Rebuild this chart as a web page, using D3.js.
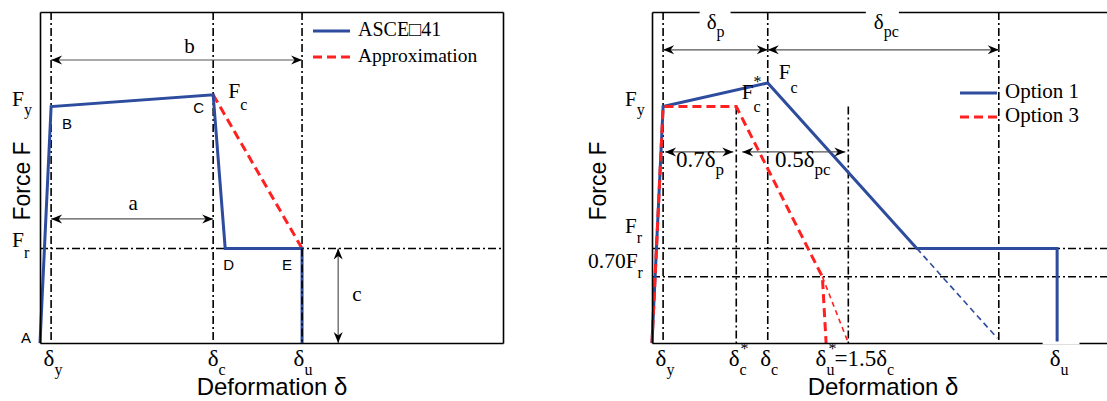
<!DOCTYPE html>
<html>
<head>
<meta charset="utf-8">
<script src="https://cdn.jsdelivr.net/npm/d3@7"></script>
<style>
  body { margin: 0; background: #fff; }
  svg { display: block; }
  .serif { font-family: "Liberation Serif", "Times New Roman", serif; }
  .sans { font-family: "Liberation Sans", Arial, Helvetica, sans-serif; }
</style>
</head>
<body>
<svg id="chart" width="1107" height="401"></svg>
<script>
// ---- Left panel: ASCE 41 backbone (normalised deformation / force) ----
const asceDef   = [0, 0.24, 3.74, 4.00, 5.66, 5.66];
const asceForce = [0, 1.00, 1.05, 0.40, 0.40, 0.00];
const asceNames = ["A", "B", "C", "D", "E"];
const approxDef   = [3.74, 5.66];
const approxForce = [1.05, 0.40];
const leftRefDef   = [0.24, 3.74, 5.66];   // δy, δc, δu
const leftRefForce = [0.40];               // Fr
const leftTickSubs = ["y", "c", "u"];

// ---- Right panel: Option 1 / Option 3 backbones ----
const opt1Def   = [0, 0.24, 2.50, 5.72, 8.75, 8.75];
const opt1Force = [0, 1.00, 1.10, 0.40, 0.40, 0.00];
const opt1ExtDef   = [5.72, 7.46];
const opt1ExtForce = [0.40, 0.02];
const opt3Def   = [0, 0.24, 1.82, 3.68, 3.76];
const opt3Force = [0, 1.00, 1.00, 0.28, 0.00];
const opt3ExtDef   = [3.68, 4.24];
const opt3ExtForce = [0.28, 0.00];
const rightRefDef   = [0.24, 1.82, 2.50, 4.24, 7.49];
const rightRefFrom  = [1.40, 1.00, 1.40, 1.00, 1.40];  // top end of each vertical guide
const rightRefForce = [0.40, 0.28];                    // Fr, 0.70Fr
const rightTickDef  = [0.24, 1.82, 2.50, 3.76, 8.75];

const blue = "#2d4c9e", red = "#ff2020";

const svg = d3.select("#chart");
const defs = svg.append("defs");
defs.append("marker")
  .attr("id", "arrowHead")
  .attr("viewBox", "-12 -6 14 12")
  .attr("refX", 0).attr("refY", 0)
  .attr("markerWidth", 14).attr("markerHeight", 12)
  .attr("markerUnits", "userSpaceOnUse")
  .attr("orient", "auto-start-reverse")
  .append("path")
  .attr("d", "M0,0 L-11,-4.5 L-7.5,0 L-11,4.5 Z")
  .attr("fill", "#000");

const xL = d3.scaleLinear().domain([0, 10]).range([40, 503]);
const yL = d3.scaleLinear().domain([0, 1.4]).range([343, 12]);
const xR = d3.scaleLinear().domain([0, 10]).range([652, 1115]);
const yR = d3.scaleLinear().domain([0, 1.4]).range([343, 12]);

const zip = (a, b) => a.map((v, i) => [v, b[i]]);

// Sequential math-style text: base glyphs with sub/superscripts
function mathText(g, x, y, parts) {
  const grp = g.append("g");
  let cx = x;
  parts.forEach(p => {
    const t = grp.append("text")
      .attr("class", p.cls || "serif")
      .attr("text-anchor", "start")
      .attr("x", cx + (p.dx || 0))
      .attr("y", y + (p.dy || 0))
      .attr("font-size", p.size || 20)
      .attr("fill", "#000")
      .text(p.t);
    if (!p.keep) cx += (p.dx || 0) + t.node().getComputedTextLength();
  });
  return grp;
}
// white strip behind a label, breaking the frame line it sits on
function knockout(grp, padL, padR, y0, y1) {
  const b = grp.node().getBBox();
  d3.select(grp.node().parentNode).insert("rect", () => grp.node())
    .attr("x", b.x - padL).attr("width", b.width + padL + padR)
    .attr("y", y0).attr("height", y1 - y0)
    .attr("fill", "#fff");
}

function frame(g, x, y, closed) {
  g.append("g").attr("transform", `translate(0,${y.range()[0]})`)
    .call(d3.axisBottom(x).tickValues([]).tickSizeOuter(0));
  g.append("g").attr("transform", `translate(0,${y.range()[1]})`)
    .call(d3.axisTop(x).tickValues([]).tickSizeOuter(0));
  g.append("g").attr("transform", `translate(${x.range()[0]},0)`)
    .call(d3.axisLeft(y).tickValues([]).tickSizeOuter(0));
  if (closed) {
    g.append("g").attr("transform", `translate(${x.range()[1]},0)`)
      .call(d3.axisRight(y).tickValues([]).tickSizeOuter(0));
  }
  g.selectAll(".domain").attr("stroke", "#000").attr("stroke-width", 1.6);
}

function guideV(g, x, y, xv, fromY) {
  g.append("line")
    .attr("x1", x(xv)).attr("x2", x(xv))
    .attr("y1", y(fromY)).attr("y2", y(0))
    .attr("stroke", "#000").attr("stroke-width", 1.6)
    .attr("stroke-dasharray", "8,3,2,3");
}
function guideH(g, x, y, yv) {
  g.append("line")
    .attr("x1", x.range()[0]).attr("x2", x.range()[1])
    .attr("y1", y(yv)).attr("y2", y(yv))
    .attr("stroke", "#000").attr("stroke-width", 1.6)
    .attr("stroke-dasharray", "8,3,2,3");
}
function arrow(g, x1, y1, x2, y2) {
  g.append("line")
    .attr("x1", x1).attr("y1", y1).attr("x2", x2).attr("y2", y2)
    .attr("stroke", "#555").attr("stroke-width", 1.2)
    .attr("marker-start", "url(#arrowHead)")
    .attr("marker-end", "url(#arrowHead)");
}
function curve(g, x, y, xs, ys, color, width, dash) {
  const line = d3.line().x(d => x(d[0])).y(d => y(d[1]));
  const p = g.append("path")
    .attr("d", line(zip(xs, ys)))
    .attr("fill", "none")
    .attr("stroke", color)
    .attr("stroke-width", width)
    .attr("stroke-linejoin", "miter");
  if (dash) p.attr("stroke-dasharray", dash);
}
function legendRow(g, x, y, color, dash, label, size) {
  const l = g.append("line")
    .attr("x1", x).attr("x2", x + 37).attr("y1", y).attr("y2", y)
    .attr("stroke", color).attr("stroke-width", 3);
  if (dash) l.attr("stroke-dasharray", dash);
  g.append("text").attr("class", "serif")
    .attr("x", x + 45).attr("y", y + 5)
    .attr("font-size", size).text(label);
}

const TICK_Y = 23, SUB_DY = 9, STAR_DY = -12;
const TITLE_Y = 395, TITLE_SIZE = 24;

// ================= LEFT PANEL =================
const gl = svg.append("g");
leftRefDef.forEach(v => guideV(gl, xL, yL, v, 1.4));
leftRefForce.forEach(v => guideH(gl, xL, yL, v));

curve(gl, xL, yL, approxDef, approxForce, red, 3, "9,5");
curve(gl, xL, yL, asceDef, asceForce, blue, 3);
// guide at δu stays visible over the vertical drop
guideV(gl, xL, yL, leftRefDef[2], 0.40);
frame(gl, xL, yL, true);

// bottom labels δy δc δu via axis ticks
const lbx = gl.append("g").attr("transform", `translate(0,${yL(0)})`)
  .call(d3.axisBottom(xL).tickValues(leftRefDef).tickSize(0).tickFormat(() => ""));
lbx.select(".domain").remove();
const leftTickOff = [-8, -6, -9];
lbx.selectAll(".tick").each(function (d, i) {
  mathText(d3.select(this), leftTickOff[i], TICK_Y, [
    { t: "δ", size: 23 }, { t: leftTickSubs[i], size: 16, dy: SUB_DY }
  ]);
});

// left force labels
mathText(gl, 12, yL(1.0) - 1, [{ t: "F", size: 21.5 }, { t: "y", size: 16, dy: 9 }]);
mathText(gl, 12, yL(0.40) - 1, [{ t: "F", size: 21.5 }, { t: "r", size: 16, dy: 11 }]);
mathText(gl, xL(3.74) + 15, yL(1.05) + 3, [{ t: "F", size: 21.5 }, { t: "c", size: 16, dy: 12 }]);

// point names
const ptOff = [[-19, 0], [11, 22], [-20, 18], [-2, 22], [-20, 22]];
asceNames.forEach((n, i) => {
  gl.append("text").attr("class", "sans").attr("font-size", 15)
    .attr("x", xL(asceDef[i]) + ptOff[i][0])
    .attr("y", yL(asceForce[i]) + ptOff[i][1])
    .text(n);
});

// dimension arrows a, b, c
arrow(gl, xL(0.24), yL(1.197), xL(5.66), yL(1.197));
gl.append("text").attr("class", "serif").attr("font-size", 21)
  .attr("x", xL((0.24 + 5.66) / 2) + 13).attr("y", yL(1.197) - 7)
  .attr("text-anchor", "middle").text("b");
arrow(gl, xL(0.24), yL(0.525), xL(3.74), yL(0.525));
gl.append("text").attr("class", "serif").attr("font-size", 21)
  .attr("x", xL((0.24 + 3.74) / 2) + 1).attr("y", yL(0.525) - 9)
  .attr("text-anchor", "middle").text("a");
arrow(gl, xL(6.44), yL(0.40), xL(6.44), yL(0));
gl.append("text").attr("class", "serif").attr("font-size", 21)
  .attr("x", xL(6.44) + 14).attr("y", yL(0.20) + 5).text("c");

// legend
legendRow(gl, 313, 31, blue, null, "ASCE□41", 20);
legendRow(gl, 313, 57, red, "9,5", "Approximation", 19.5);

// axis titles
gl.append("text").attr("class", "sans").attr("font-size", TITLE_SIZE)
  .attr("x", 272).attr("y", TITLE_Y).attr("text-anchor", "middle").text("Deformation δ");
gl.append("text").attr("class", "sans").attr("font-size", 23)
  .attr("transform", "translate(30,181) rotate(-90)")
  .attr("text-anchor", "middle").text("Force F");

// ================= RIGHT PANEL =================
const gr = svg.append("g");
rightRefDef.forEach((v, i) => guideV(gr, xR, yR, v, rightRefFrom[i]));
rightRefForce.forEach(v => guideH(gr, xR, yR, v));

curve(gr, xR, yR, opt1ExtDef, opt1ExtForce, blue, 1.6, "6,4");
curve(gr, xR, yR, opt3ExtDef, opt3ExtForce, red, 1.6, "5,4");
curve(gr, xR, yR, opt1Def, opt1Force, blue, 3);
curve(gr, xR, yR, opt3Def, opt3Force, red, 3, "9,5");
frame(gr, xR, yR, false);

// bottom labels
const rbx = gr.append("g").attr("transform", `translate(0,${yR(0)})`)
  .call(d3.axisBottom(xR).tickValues(rightTickDef).tickSize(0).tickFormat(() => ""));
rbx.select(".domain").remove();
const rightTickParts = [
  [{ t: "δ", size: 23 }, { t: "y", size: 16, dy: SUB_DY }],
  [{ t: "δ", size: 23 }, { t: "*", size: 16, dy: STAR_DY, dx: 1, keep: true }, { t: "c", size: 16, dy: SUB_DY }],
  [{ t: "δ", size: 23 }, { t: "c", size: 16, dy: SUB_DY }],
  [{ t: "δ", size: 23 }, { t: "*", size: 16, dy: STAR_DY, dx: 2, keep: true }, { t: "u", size: 16, dy: SUB_DY },
   { t: "=1.5δ", size: 23 }, { t: "c", size: 16, dy: SUB_DY }],
  [{ t: "δ", size: 23 }, { t: "u", size: 16, dy: SUB_DY }]
];
const rightTickOff = [-8, -8, -8, -11, -8];
rbx.selectAll(".tick").each(function (d, i) {
  const lab = mathText(d3.select(this), rightTickOff[i], TICK_Y, rightTickParts[i]);
  if (i === rightTickParts.length - 1) knockout(lab, 7, 11, -1.5, 1.5);
});

// force labels
mathText(gr, 625, yR(1.0) - 1, [{ t: "F", size: 21 }, { t: "y", size: 16, dy: 9 }]);
mathText(gr, 625, yR(0.40) - 15, [{ t: "F", size: 21 }, { t: "r", size: 16, dy: 10 }]);
mathText(gr, 588, yR(0.28) - 9, [{ t: "0.70F", size: 21.5 }, { t: "r", size: 16, dy: 10 }]);
mathText(gr, xR(2.50) + 11, yR(1.10) - 4, [{ t: "F", size: 21 }, { t: "c", size: 16, dy: 14 }]);
mathText(gr, xR(2.50) - 26, yR(1.10) + 16, [
  { t: "F", size: 21 }, { t: "*", size: 16, dy: -12, keep: true }, { t: "c", size: 16, dy: 13 }
]);

// dimension arrows
const yTopArrow = 1.24, yMidArrow = 0.808;
arrow(gr, xR(0.24), yR(yTopArrow), xR(2.50), yR(yTopArrow));
arrow(gr, xR(2.50), yR(yTopArrow), xR(7.49), yR(yTopArrow));
const lp = mathText(gr, xR(1.31) - 6, 29, [{ t: "δ", size: 21 }, { t: "p", size: 16, dy: 8 }]);
knockout(lp, 7, 6, 10, 14);
const lpc = mathText(gr, xR(4.90) - 5, 29, [{ t: "δ", size: 21 }, { t: "pc", size: 16, dy: 8 }]);
knockout(lpc, 8, 0, 10, 14);
arrow(gr, xR(0.24) + 2, yR(yMidArrow), xR(1.82) - 3, yR(yMidArrow));
arrow(gr, xR(1.82) + 6, yR(yMidArrow), xR(4.24) - 3, yR(yMidArrow));
mathText(gr, 676, 167, [{ t: "0.7δ", size: 23 }, { t: "p", size: 17, dy: 8 }]);
mathText(gr, 775, 167, [{ t: "0.5δ", size: 23 }, { t: "pc", size: 17, dy: 8 }]);

// legend
legendRow(gr, 960, 93, blue, null, "Option 1", 21);
legendRow(gr, 960, 117, red, "9,5", "Option 3", 21);

// axis titles
gr.append("text").attr("class", "sans").attr("font-size", TITLE_SIZE)
  .attr("x", 883).attr("y", TITLE_Y).attr("text-anchor", "middle").text("Deformation δ");
gr.append("text").attr("class", "sans").attr("font-size", 23)
  .attr("transform", "translate(606,181) rotate(-90)")
  .attr("text-anchor", "middle").text("Force F");
</script>
</body>
</html>
